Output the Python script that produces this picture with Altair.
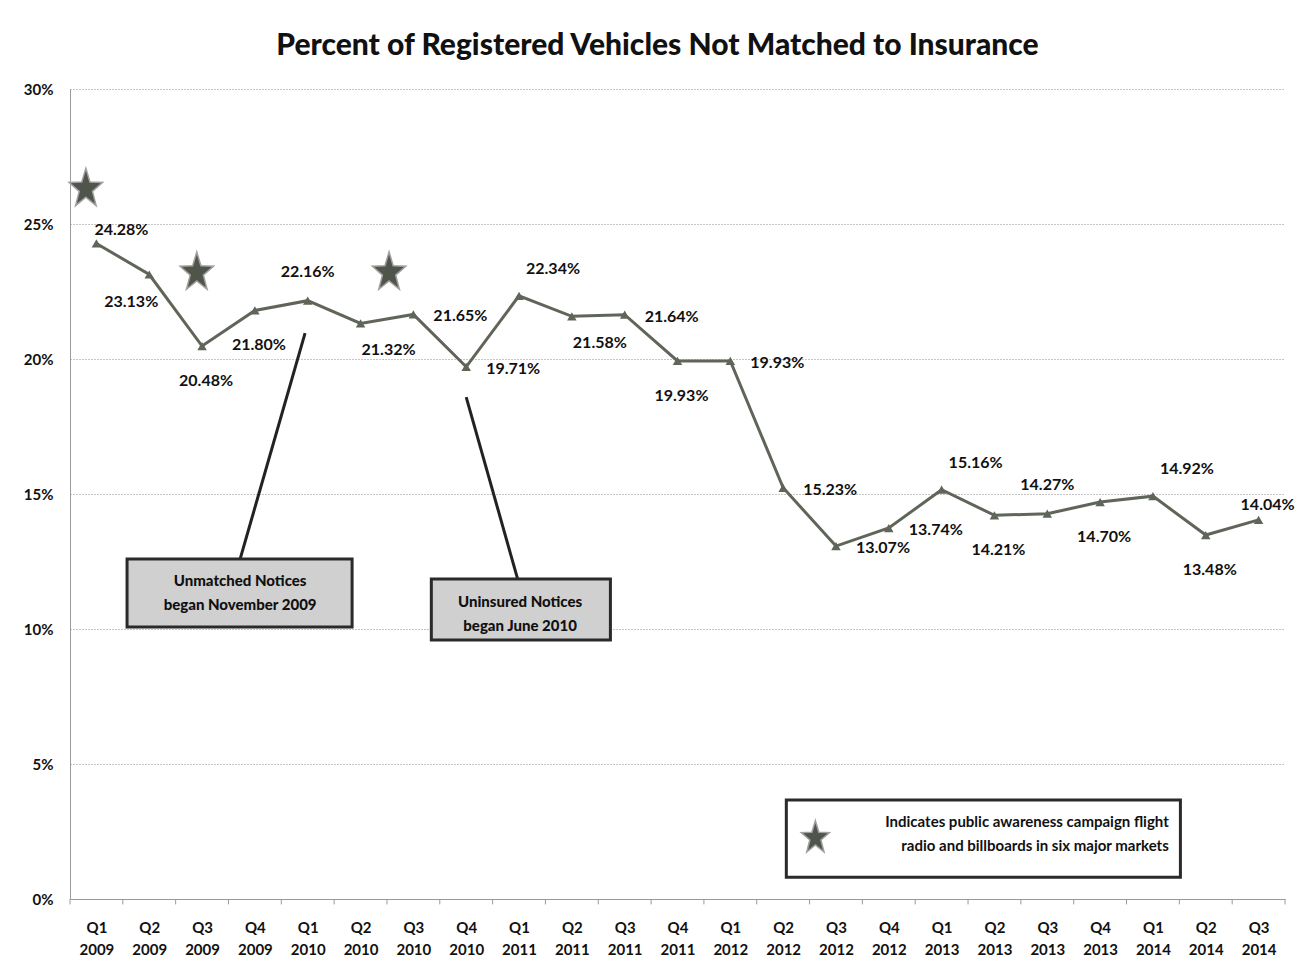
import json
import altair as alt
import pandas as pd

# ---------------- data ----------------
quarters = ["Q1 2009", "Q2 2009", "Q3 2009", "Q4 2009", "Q1 2010", "Q2 2010",
            "Q3 2010", "Q4 2010", "Q1 2011", "Q2 2011", "Q3 2011", "Q4 2011",
            "Q1 2012", "Q2 2012", "Q3 2012", "Q4 2012", "Q1 2013", "Q2 2013",
            "Q3 2013", "Q4 2013", "Q1 2014", "Q2 2014", "Q3 2014"]
pct = [24.28, 23.13, 20.48, 21.80, 22.16, 21.32, 21.65, 19.71, 22.34, 21.58,
       21.64, 19.93, 19.93, 15.23, 13.07, 13.74, 15.16, 14.21, 14.27, 14.70,
       14.92, 13.48, 14.04]
label_side = ["ar", "bl", "b", "b", "a", "br", "r", "r", "aR", "br",
              "r", "b", "r", "r", "r", "r", "aR", "b", "a", "b",
              "aR", "b", "a1"]

star_x = [-0.2, 1.9, 5.54]
star_y = [26.3, 23.2, 23.2]

notes = ["Unmatched Notices\nbegan November 2009", "Uninsured Notices\nbegan June 2010"]
note_x = [2.72, 8.02]
note_y = [11.33, 10.56]
note_box_x = [0.58, 6.34]
note_box_x2 = [4.84, 9.73]
note_box_y = [12.59, 11.85]
note_box_y2 = [10.07, 9.59]
leader_x = [3.95, 7.0]
leader_y = [20.96, 18.59]
leader_x2 = [2.72, 7.98]
leader_y2 = [12.59, 11.81]

legend_text = "Indicates public awareness campaign flight\nradio and billboards in six major markets"
legend_box = [13.06, 20.52, 3.67, 0.81]
legend_star = [13.61, 2.26]
legend_text_pos = [20.3, 2.41]

y_ticks = [0, 5, 10, 15, 20, 25, 30]

# ---------------- build ----------------
FONT = "Lato"
LINE = "#5f6659"
W, H = 1215, 810

# five-pointed star symbol (unit box)
STAR = ("M0,-1L0.2,-0.33L0.81,-0.31L0.32,0.12L0.5,0.81L0,0.4L-0.5,0.81"
        "L-0.32,0.12L-0.81,-0.31L-0.2,-0.33Z")

df = pd.DataFrame({"qi": list(range(len(quarters))), "q": quarters, "v": pct,
                   "side": label_side})
df["lab"] = df["v"].map(lambda v: f"{v:.2f}%")

x_scale = alt.Scale(domain=[-0.5, len(quarters) - 0.5], nice=False, zero=False)
y_scale = alt.Scale(domain=[0, 30], nice=False, zero=False)

label_expr = f"split({json.dumps(quarters)}[datum.value], ' ')"

x_axis = alt.Axis(values=list(range(len(quarters))), labelExpr=label_expr,
                  grid=False, ticks=False, domainColor="#9a9a9a", orient="bottom",
                  labelFont=FONT, labelFontSize=15, labelFontWeight="bold",
                  labelColor="#111", labelPadding=21, labelLineHeight=22,
                  labelOverlap=False, labelFlush=False, labelAngle=0)
y_axis = alt.Axis(values=y_ticks, labelExpr="datum.value + '%'", orient="left",
                  grid=True, gridDash=[1, 2], gridColor="#8a8a8a",
                  ticks=False, domainColor="#9a9a9a",
                  labelFont=FONT, labelFontSize=15, labelFontWeight="bold",
                  labelColor="#111", labelPadding=17)


def X(field):
    return alt.X(field, scale=x_scale, axis=x_axis, title=None)


def Y(field):
    return alt.Y(field, scale=y_scale, axis=y_axis, title=None)


base = alt.Chart(df)

line = base.mark_line(color=LINE, strokeWidth=3).encode(x=X("qi:Q"), y=Y("v:Q"))
pts = base.mark_point(shape="triangle-up", filled=True, size=90, color=LINE,
                      opacity=1).encode(x=X("qi:Q"), y=Y("v:Q"))

offsets = {"r": (47, 2), "b": (4, 35), "a": (0, -29), "ar": (25, -13),
           "a1": (9, -15), "aR": (34, -27), "br": (28, 27), "bl": (-18, 28)}
label_layers = []
for side, (dx, dy) in offsets.items():
    label_layers.append(
        base.transform_filter(alt.datum.side == side).mark_text(
            font=FONT, fontSize=16, fontWeight="bold", color="#111",
            dx=dx, dy=dy, align="center", baseline="middle").encode(
            x=X("qi:Q"), y=Y("v:Q"), text="lab:N"))

bounds = pd.DataFrame({"bnd": [k - 0.5 for k in range(len(quarters) + 1)],
                       "y0": [0.0] * (len(quarters) + 1),
                       "y1": [-0.2] * (len(quarters) + 1)})
ticks = alt.Chart(bounds).mark_rule(color="#9a9a9a", strokeWidth=1).encode(
    x=X("bnd:Q"), y=Y("y0:Q"), y2="y1:Q")

stars_df = pd.DataFrame({"sx": star_x, "sy": star_y})
stars = alt.Chart(stars_df).mark_point(shape=STAR, filled=True, size=1700,
                                        fill="#50554c", stroke="#a0a0a0",
                                        strokeWidth=1.5, opacity=1).encode(
    x=X("sx:Q"), y=Y("sy:Q"))

notes_df = pd.DataFrame({"t": notes, "nx": note_x, "ny": note_y,
                         "bx": note_box_x, "bx2": note_box_x2,
                         "by": note_box_y, "by2": note_box_y2,
                         "lx": leader_x, "ly": leader_y,
                         "lx2": leader_x2, "ly2": leader_y2})
leaders = alt.Chart(notes_df).mark_rule(color="#222", strokeWidth=3).encode(
    x=X("lx:Q"), y=Y("ly:Q"), x2="lx2:Q", y2="ly2:Q")
boxes = alt.Chart(notes_df).mark_rect(fill="#d0d0d0", stroke="#2a2a2a",
                                      strokeWidth=3).encode(
    x=X("bx:Q"), x2="bx2:Q", y=Y("by:Q"), y2="by2:Q")
box_text = alt.Chart(notes_df).mark_text(font=FONT, fontSize=15, fontWeight=900,
                                         color="#111", lineBreak="\n",
                                         lineHeight=24, align="center",
                                         baseline="middle", dy=-12).encode(
    x=X("nx:Q"), y=Y("ny:Q"), text="t:N")

leg_df = pd.DataFrame({"gx": [legend_box[0]], "gx2": [legend_box[1]],
                       "gy": [legend_box[2]], "gy2": [legend_box[3]],
                       "gsx": [legend_star[0]], "gsy": [legend_star[1]],
                       "tx": [legend_text_pos[0]], "ty": [legend_text_pos[1]],
                       "gt": [legend_text]})
leg_box = alt.Chart(leg_df).mark_rect(fill="white", stroke="#2a2a2a",
                                      strokeWidth=3).encode(
    x=X("gx:Q"), x2="gx2:Q", y=Y("gy:Q"), y2="gy2:Q")
leg_star = alt.Chart(leg_df).mark_point(shape=STAR, filled=True, size=1200,
                                        fill="#50554c", stroke="#a0a0a0",
                                        strokeWidth=1.5, opacity=1).encode(
    x=X("gsx:Q"), y=Y("gsy:Q"))
leg_text = alt.Chart(leg_df).mark_text(font=FONT, fontSize=15, fontWeight="bold",
                                       color="#111", lineBreak="\n", lineHeight=24,
                                       align="right", baseline="middle",
                                       dy=-12).encode(
    x=X("tx:Q"), y=Y("ty:Q"), text="gt:N")

chart = alt.layer(
    line, ticks, pts, *label_layers, stars, leaders, boxes, box_text,
    leg_box, leg_star, leg_text
).properties(
    width=W, height=H,
    title=alt.TitleParams("Percent of Registered Vehicles Not Matched to Insurance",
                          font=FONT, fontSize=30, fontWeight=900, color="#111",
                          anchor="middle", offset=21, dx=-20),
    autosize=alt.AutoSizeParams(type="none"),
    padding={"left": 62, "top": 81, "right": 14, "bottom": 70},
).configure(background="white").configure_view(stroke=None)

chart.save("out.html", embed_options={"renderer": "svg", "actions": False})
